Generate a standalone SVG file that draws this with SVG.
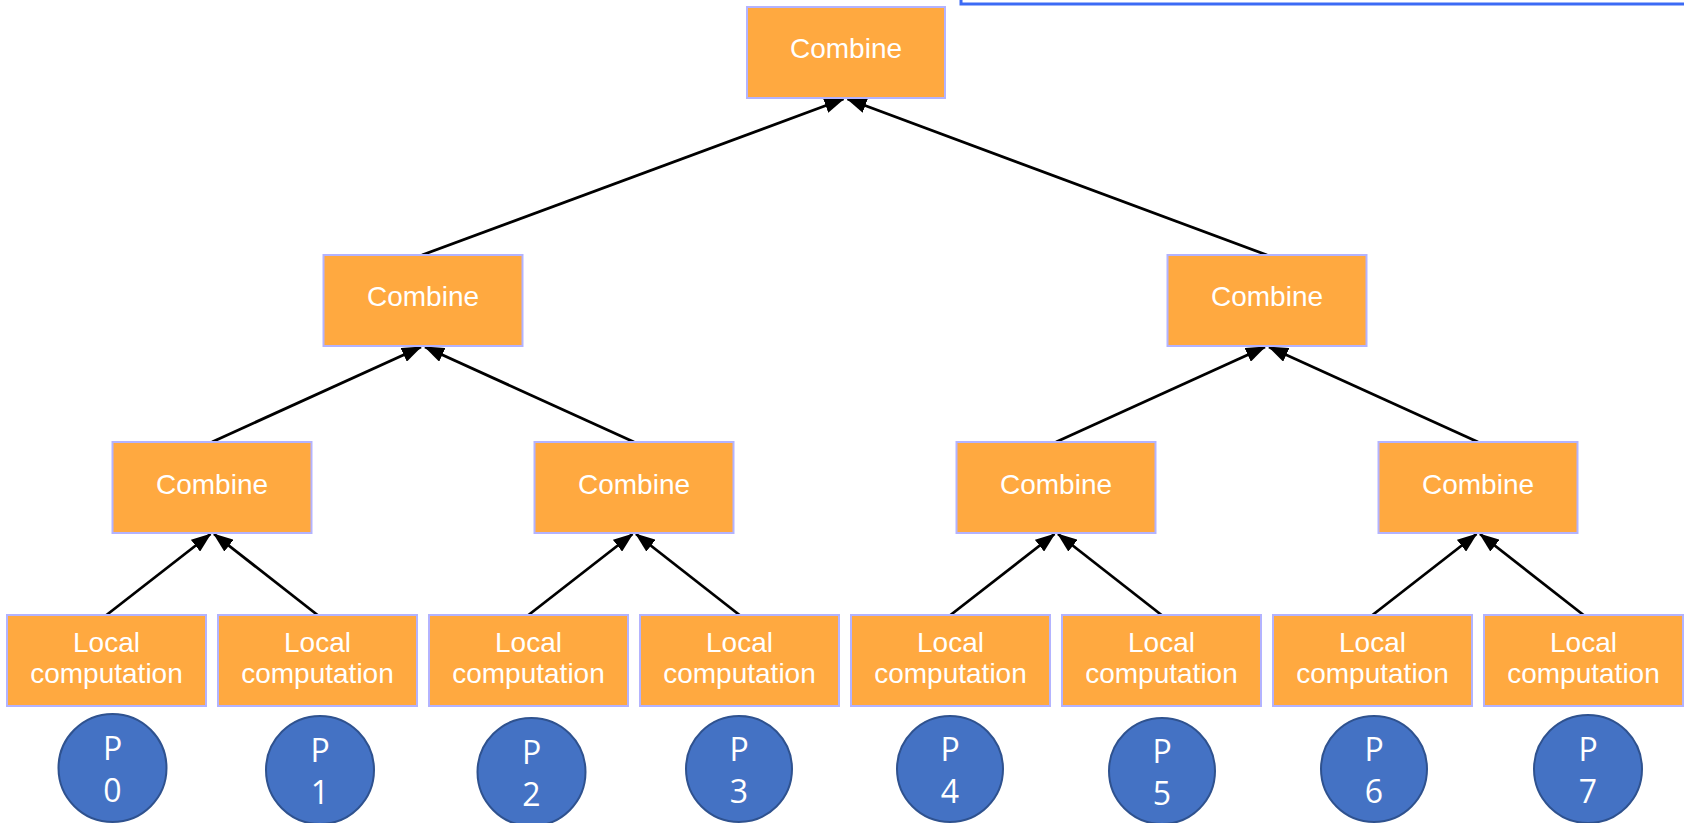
<svg xmlns="http://www.w3.org/2000/svg" width="1684" height="823" viewBox="0 0 1684 823">
  <style>
    .box { fill: #FFA940; stroke: #B3B3FF; stroke-width: 2; }
    .lbl { fill: #FFFFFF; font-family: "Liberation Sans", Arial, sans-serif; font-size: 28px; text-anchor: middle; }
    .proc { fill: #4472C4; stroke: #2F528F; stroke-width: 2; }
    .plbl { fill: #FFFFFF; font-family: "Open Sans", "Noto Sans", sans-serif; font-size: 32px; text-anchor: middle; }
    .edge { stroke: #000000; stroke-width: 2.8; fill: none; marker-end: url(#arrow); }
  </style>
  <defs>
    <marker id="arrow" markerUnits="userSpaceOnUse" markerWidth="20" markerHeight="15" refX="19" refY="7.5" orient="auto">
      <path d="M0,0 L20,7.5 L0,15 z" fill="#000000"/>
    </marker>
  </defs>
  <rect width="1684" height="823" fill="#FFFFFF"/>

  <!-- frame edge at the top right -->
  <rect x="961" y="-20" width="760" height="24" fill="none" stroke="#3C6BF5" stroke-width="3"/>

  <!-- connectors: each child points up to its parent -->
  <g id="connectors">
    <line class="edge" x1="422" y1="255" x2="843.5" y2="99"/>
    <line class="edge" x1="1267" y1="255" x2="847.5" y2="99"/>

    <line class="edge" x1="212" y1="442" x2="421" y2="347"/>
    <line class="edge" x1="634" y1="442" x2="425" y2="347"/>
    <line class="edge" x1="1056" y1="442" x2="1265" y2="347"/>
    <line class="edge" x1="1478" y1="442" x2="1269" y2="347"/>

    <line class="edge" x1="106.5" y1="615" x2="210.5" y2="534"/>
    <line class="edge" x1="317.5" y1="615" x2="214" y2="534"/>
    <line class="edge" x1="528.5" y1="615" x2="632.5" y2="534"/>
    <line class="edge" x1="739.5" y1="615" x2="636" y2="534"/>
    <line class="edge" x1="950.5" y1="615" x2="1054.5" y2="534"/>
    <line class="edge" x1="1161.5" y1="615" x2="1058" y2="534"/>
    <line class="edge" x1="1372.5" y1="615" x2="1476.5" y2="534"/>
    <line class="edge" x1="1583.5" y1="615" x2="1480" y2="534"/>
  </g>

  <!-- root -->
  <g id="combine-root">
    <rect class="box" x="747" y="7" width="198" height="91"/>
    <text class="lbl" x="846" y="58">Combine</text>
  </g>

  <!-- second level -->
  <g id="combine-l2-0">
    <rect class="box" x="323.5" y="255" width="199" height="91"/>
    <text class="lbl" x="423" y="306">Combine</text>
  </g>
  <g id="combine-l2-1">
    <rect class="box" x="1167.5" y="255" width="199" height="91"/>
    <text class="lbl" x="1267" y="306">Combine</text>
  </g>

  <!-- third level -->
  <g id="combine-l3-0">
    <rect class="box" x="112.5" y="442" width="199" height="91"/>
    <text class="lbl" x="212" y="494">Combine</text>
  </g>
  <g id="combine-l3-1">
    <rect class="box" x="534.5" y="442" width="199" height="91"/>
    <text class="lbl" x="634" y="494">Combine</text>
  </g>
  <g id="combine-l3-2">
    <rect class="box" x="956.5" y="442" width="199" height="91"/>
    <text class="lbl" x="1056" y="494">Combine</text>
  </g>
  <g id="combine-l3-3">
    <rect class="box" x="1378.5" y="442" width="199" height="91"/>
    <text class="lbl" x="1478" y="494">Combine</text>
  </g>

  <!-- leaves: local computation -->
  <g id="local-0">
    <rect class="box" x="7" y="615" width="199" height="91"/>
    <text class="lbl" x="106.5" y="651.5">Local</text>
    <text class="lbl" x="106.5" y="683">computation</text>
  </g>
  <g id="local-1">
    <rect class="box" x="218" y="615" width="199" height="91"/>
    <text class="lbl" x="317.5" y="651.5">Local</text>
    <text class="lbl" x="317.5" y="683">computation</text>
  </g>
  <g id="local-2">
    <rect class="box" x="429" y="615" width="199" height="91"/>
    <text class="lbl" x="528.5" y="651.5">Local</text>
    <text class="lbl" x="528.5" y="683">computation</text>
  </g>
  <g id="local-3">
    <rect class="box" x="640" y="615" width="199" height="91"/>
    <text class="lbl" x="739.5" y="651.5">Local</text>
    <text class="lbl" x="739.5" y="683">computation</text>
  </g>
  <g id="local-4">
    <rect class="box" x="851" y="615" width="199" height="91"/>
    <text class="lbl" x="950.5" y="651.5">Local</text>
    <text class="lbl" x="950.5" y="683">computation</text>
  </g>
  <g id="local-5">
    <rect class="box" x="1062" y="615" width="199" height="91"/>
    <text class="lbl" x="1161.5" y="651.5">Local</text>
    <text class="lbl" x="1161.5" y="683">computation</text>
  </g>
  <g id="local-6">
    <rect class="box" x="1273" y="615" width="199" height="91"/>
    <text class="lbl" x="1372.5" y="651.5">Local</text>
    <text class="lbl" x="1372.5" y="683">computation</text>
  </g>
  <g id="local-7">
    <rect class="box" x="1484" y="615" width="199" height="91"/>
    <text class="lbl" x="1583.5" y="651.5">Local</text>
    <text class="lbl" x="1583.5" y="683">computation</text>
  </g>

  <!-- processors -->
  <g id="p0">
    <circle class="proc" cx="112.5" cy="768" r="54"/>
    <text class="plbl" x="112.5" y="760">P</text>
    <text class="plbl" x="112.5" y="802">0</text>
  </g>
  <g id="p1">
    <circle class="proc" cx="320" cy="770" r="54"/>
    <text class="plbl" x="320" y="762">P</text>
    <text class="plbl" x="320" y="804">1</text>
  </g>
  <g id="p2">
    <circle class="proc" cx="531.5" cy="772" r="54"/>
    <text class="plbl" x="531.5" y="764">P</text>
    <text class="plbl" x="531.5" y="806">2</text>
  </g>
  <g id="p3">
    <circle class="proc" cx="739" cy="769" r="53"/>
    <text class="plbl" x="739" y="761">P</text>
    <text class="plbl" x="739" y="803">3</text>
  </g>
  <g id="p4">
    <circle class="proc" cx="950" cy="769" r="53"/>
    <text class="plbl" x="950" y="761">P</text>
    <text class="plbl" x="950" y="803">4</text>
  </g>
  <g id="p5">
    <circle class="proc" cx="1162" cy="771" r="53"/>
    <text class="plbl" x="1162" y="763">P</text>
    <text class="plbl" x="1162" y="805">5</text>
  </g>
  <g id="p6">
    <circle class="proc" cx="1374" cy="769" r="53"/>
    <text class="plbl" x="1374" y="761">P</text>
    <text class="plbl" x="1374" y="803">6</text>
  </g>
  <g id="p7">
    <circle class="proc" cx="1588" cy="769" r="54"/>
    <text class="plbl" x="1588" y="761">P</text>
    <text class="plbl" x="1588" y="803">7</text>
  </g>
</svg>
